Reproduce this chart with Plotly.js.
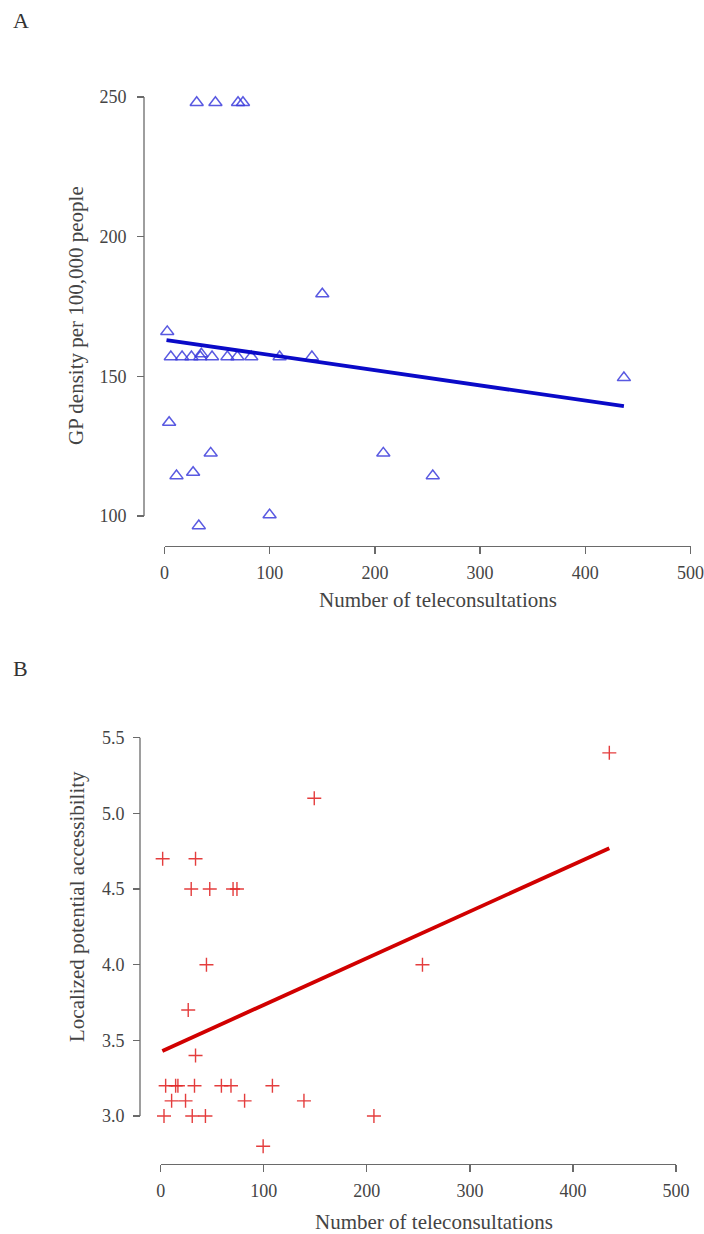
<!DOCTYPE html>
<html>
<head>
<meta charset="utf-8">
<script src="https://cdn.plot.ly/plotly-3.0.1.min.js"></script>
<style>html,body{margin:0;padding:0;background:#fff;}#chart{width:704px;height:1234px;}</style>
</head>
<body>
<div id="chart"></div>
<script>
// Panel A: teleconsultations vs GP density
var teleA = [30.6, 48.4, 69.9, 74.6, 2.6, 6, 16.7, 25.6, 34, 35, 45.2, 59.8, 69.3, 82.5, 109.4, 140.1, 150, 4.4, 43.9, 208, 11.4, 27.2, 255, 32.6, 99.9, 436.7];
var gpDensity = [248, 248, 248, 248, 166, 157, 157, 157, 157, 158, 157, 157, 157, 157, 157, 157, 179.5, 133.5, 122.5, 122.5, 114.4, 115.6, 114.4, 96.5, 100.4, 149.5];
var fitA_x = [1.9, 436.7];
var fitA_y = [163, 139.3];

// Panel B: teleconsultations vs localized potential accessibility
var teleB = [149, 1.9, 33.8, 29.6, 47.6, 70.2, 74, 44.4, 254, 26.7, 33.8, 4.8, 14.5, 16.7, 32.8, 58.9, 68.2, 108.4, 10.6, 24.1, 81.4, 139, 3.2, 30.6, 43.4, 206.9, 99.4, 435.3];
var accessibility = [5.1, 4.7, 4.7, 4.5, 4.5, 4.5, 4.5, 4.0, 4.0, 3.7, 3.4, 3.2, 3.2, 3.2, 3.2, 3.2, 3.2, 3.2, 3.1, 3.1, 3.1, 3.1, 3.0, 3.0, 3.0, 3.0, 2.8, 5.4];
var fitB_x = [1.6, 435.3];
var fitB_y = [3.43, 4.77];

var xTicks = [0, 100, 200, 300, 400, 500];
var yTicksA = [100, 150, 200, 250];
var yTicksB = [3.0, 3.5, 4.0, 4.5, 5.0, 5.5];

var W = 704, H = 1234;
function px(x){ return x / W; }
function py(y){ return 1 - y / H; }

var FONT = 'Liberation Serif, Times New Roman, serif';
var AXC = '#6a6a6a';
var axisCommon = {
  showgrid: false, zeroline: false, showline: true, linecolor: AXC, linewidth: 1.3,
  ticks: 'outside', ticklen: 7, tickwidth: 1.3, tickcolor: AXC, ticklabelstandoff: 3,
  tickfont: {family: FONT, size: 18, color: '#444'}, anchor: 'free', fixedrange: true
};
function ax(extra){ return Object.assign({}, axisCommon, extra); }

// y axes: data range slightly extended so low points stay visible; the drawn axis line spans the tick range
var yA_lo = 90, yA_hi = 255, yB_lo = 2.7, yB_hi = 5.55;
var pxPerA = (516 - 97) / (250 - 100);
var pxPerB = (1116 - 737.7) / (5.5 - 3.0);

var traces = [
  {x: teleA, y: gpDensity, type: 'scatter', mode: 'markers', xaxis: 'x', yaxis: 'y', cliponaxis: false,
   marker: {symbol: 'triangle-up-open', size: 11.5, color: 'rgba(60,60,220,0.85)', line: {width: 1.5, color: 'rgba(60,60,220,0.85)'}}},
  {x: fitA_x, y: fitA_y, type: 'scatter', mode: 'lines', xaxis: 'x', yaxis: 'y',
   line: {color: '#0a0ac8', width: 3.8}},
  {x: teleB, y: accessibility, type: 'scatter', mode: 'markers', xaxis: 'x2', yaxis: 'y2', cliponaxis: false,
   marker: {symbol: 'cross-thin-open', size: 10, color: 'rgba(225,40,40,0.9)', line: {width: 1.4, color: 'rgba(225,40,40,0.9)'}}},
  {x: fitB_x, y: fitB_y, type: 'scatter', mode: 'lines', xaxis: 'x2', yaxis: 'y2',
   line: {color: '#d10000', width: 3.8}}
];

var layout = {
  width: W, height: H, showlegend: false,
  margin: {l: 0, r: 0, t: 0, b: 0},
  paper_bgcolor: '#fff', plot_bgcolor: 'rgba(0,0,0,0)',
  font: {family: FONT, color: '#444'},
  xaxis: ax({domain: [px(164.5), px(690.5)], range: [0, 500], tickvals: xTicks, position: py(546)}),
  yaxis: ax({domain: [py(516 + (100 - yA_lo) * pxPerA), py(97 - (yA_hi - 250) * pxPerA)], range: [yA_lo, yA_hi],
             tickvals: yTicksA, position: px(144), showline: false, ticklabelstandoff: 7}),
  xaxis2: ax({domain: [px(160.7), px(676)], range: [0, 500], tickvals: xTicks, position: py(1164)}),
  yaxis2: ax({domain: [py(1116 + (3.0 - yB_lo) * pxPerB), py(737.7 - (yB_hi - 5.5) * pxPerB)], range: [yB_lo, yB_hi],
              tickvals: yTicksB, tickformat: '.1f', position: px(140), showline: false, ticklabelstandoff: 5}),
  shapes: [
    {type: 'line', xref: 'paper', yref: 'y', x0: px(144), x1: px(144), y0: yTicksA[0], y1: yTicksA[yTicksA.length - 1], line: {color: AXC, width: 1.3}},
    {type: 'line', xref: 'paper', yref: 'y2', x0: px(140), x1: px(140), y0: yTicksB[0], y1: yTicksB[yTicksB.length - 1], line: {color: AXC, width: 1.3}}
  ],
  annotations: [
    {text: 'A', xref: 'paper', yref: 'paper', x: px(21), y: py(21), xanchor: 'center', yanchor: 'middle', showarrow: false, font: {family: FONT, size: 22, color: '#333'}},
    {text: 'B', xref: 'paper', yref: 'paper', x: px(20), y: py(668), xanchor: 'center', yanchor: 'middle', showarrow: false, font: {family: FONT, size: 22, color: '#333'}},
    {text: 'Number of teleconsultations', xref: 'paper', yref: 'paper', x: px(438), y: py(600), xanchor: 'center', yanchor: 'middle', showarrow: false, font: {family: FONT, size: 21, color: '#444'}},
    {text: 'GP density per 100,000 people', xref: 'paper', yref: 'paper', x: px(76), y: py(316), xanchor: 'center', yanchor: 'middle', textangle: -90, showarrow: false, font: {family: FONT, size: 21, color: '#444'}},
    {text: 'Number of teleconsultations', xref: 'paper', yref: 'paper', x: px(434), y: py(1222), xanchor: 'center', yanchor: 'middle', showarrow: false, font: {family: FONT, size: 21, color: '#444'}},
    {text: 'Localized potential accessibility', xref: 'paper', yref: 'paper', x: px(77), y: py(907), xanchor: 'center', yanchor: 'middle', textangle: -90, showarrow: false, font: {family: FONT, size: 21, color: '#444'}}
  ]
};

Plotly.newPlot('chart', traces, layout, {staticPlot: true, displayModeBar: false});
</script>
</body>
</html>
